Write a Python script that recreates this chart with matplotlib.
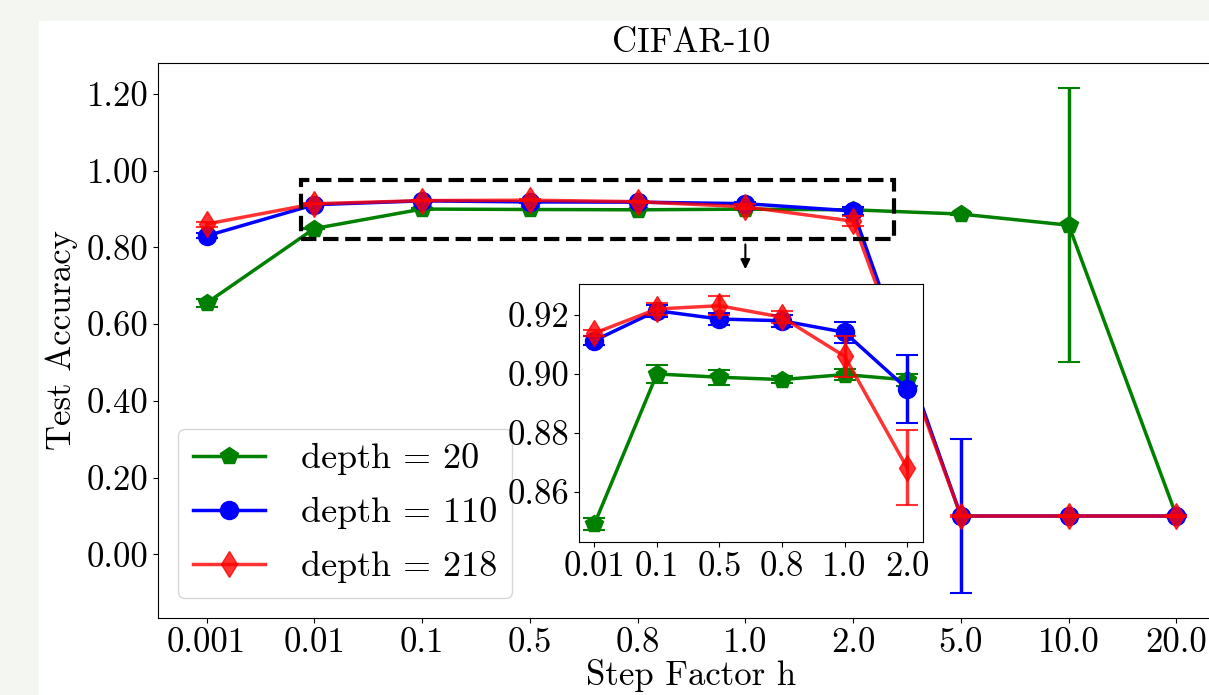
import matplotlib
matplotlib.use("Agg")
import matplotlib.pyplot as plt
from matplotlib.patches import Rectangle

plt.rcParams['font.family'] = ['cmr10', 'DejaVu Serif']
plt.rcParams['mathtext.fontset'] = 'cm'
plt.rcParams['axes.formatter.use_mathtext'] = True
plt.rcParams['font.size'] = 25

# donnees
steps = ["0.001", "0.01", "0.1", "0.5", "0.8", "1.0", "2.0", "5.0", "10.0", "20.0"]
acc_20 = [0.655, 0.8492, 0.9000, 0.8989, 0.8981, 0.8998, 0.8980, 0.887, 0.858, 0.100]
err_20 = [0.010, 0.0020, 0.0030, 0.0025, 0.0012, 0.0020, 0.0020, 0.003, 0.357, 0.003]
acc_110 = [0.830, 0.9113, 0.9214, 0.9186, 0.9180, 0.9141, 0.8950, 0.100, 0.100, 0.100]
err_110 = [0.0065, 0.0015, 0.0020, 0.0020, 0.0020, 0.0035, 0.0115, 0.200, 0.002, 0.002]
acc_218 = [0.861, 0.9138, 0.9220, 0.9231, 0.9192, 0.9060, 0.8683, 0.100, 0.100, 0.100]
err_218 = [0.0065, 0.0010, 0.0020, 0.0033, 0.0020, 0.0070, 0.0127, 0.002, 0.002, 0.002]

series = [
    ("depth = 20", acc_20, err_20, "green", "p", 1.0),
    ("depth = 110", acc_110, err_110, "blue", "o", 1.0),
    ("depth = 218", acc_218, err_218, "red", "d", 0.8),
]

fig = plt.figure(figsize=(12.09, 6.95), dpi=100)
fig.patch.set_facecolor("#f4f6f1")
fig.patches.append(Rectangle((39 / 1209, 0), 1, 1 - 21 / 695, transform=fig.transFigure,
                             facecolor="white", edgecolor="none", zorder=-10))

ax = fig.add_axes([0.1307, 0.1108, 0.8825, 0.7986])
x = list(range(len(steps)))
for label, acc, err, col, mk, a in series:
    ax.errorbar(x, acc, yerr=err, fmt="none", ecolor=col, elinewidth=2.5,
                capsize=8, capthick=1.5, alpha=a)
    ax.plot(x, acc, color=col, marker=mk, markersize=13, lw=2.5, alpha=a, label=label)

ax.set_xticks(x, steps)
ax.set_yticks([0.0, 0.2, 0.4, 0.6, 0.8, 1.0, 1.2])
ax.set_yticklabels(["%.2f" % v for v in [0.0, 0.2, 0.4, 0.6, 0.8, 1.0, 1.2]])
ax.set_xlabel("Step Factor h", labelpad=0)
ax.set_ylabel("Test Accuracy", labelpad=6)
ax.set_title("CIFAR-10", fontsize=25, pad=8)
ax.legend(loc="lower left", fontsize=26, labelspacing=0.6, handletextpad=1.0, borderaxespad=0.56)

ax.add_patch(Rectangle((0.88, 0.822), 5.5, 0.154, fill=False, ls="--", lw=3, ec="k", zorder=5))
ax.annotate("", xy=(5, 0.736), xytext=(5, 0.815),
            arrowprops=dict(arrowstyle="-|>", color="k", lw=1.5, mutation_scale=14))

# zoom
axins = fig.add_axes([0.4787, 0.2206, 0.2845, 0.3704])
xi = x[1:7]
for label, acc, err, col, mk, a in series:
    axins.errorbar(xi, acc[1:7], yerr=err[1:7], fmt="none", ecolor=col, elinewidth=2.5,
                   capsize=8, capthick=1.5, alpha=a)
    axins.plot(xi, acc[1:7], color=col, marker=mk, markersize=13, lw=2.5, alpha=a)
axins.set_xticks(xi, steps[1:7])
axins.set_yticks([0.86, 0.88, 0.90, 0.92])
axins.set_yticklabels(["0.86", "0.88", "0.90", "0.92"])

fig.savefig("out.png", dpi=100, facecolor=fig.get_facecolor())
